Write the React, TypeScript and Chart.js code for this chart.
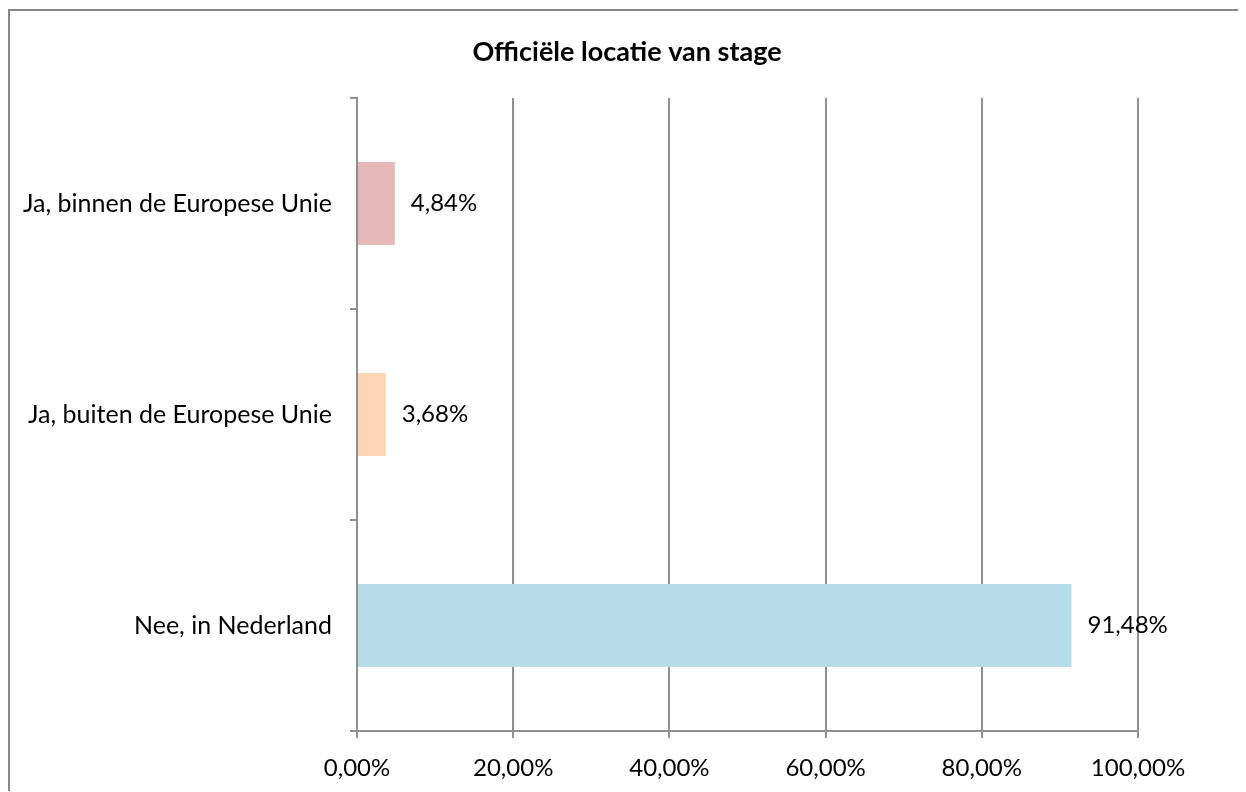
import React, { useEffect, useRef } from "react";
import { Chart, registerables } from "chart.js";

Chart.register(...registerables);

const categories = ["Ja, binnen de Europese Unie", "Ja, buiten de Europese Unie", "Nee, in Nederland"];
const values = [4.84, 3.68, 91.48];
const barColors = ["#E6B9B8", "#FCD5B5", "#B7DEE8"];
const xTicks = [0, 20, 40, 60, 80, 100];
const title = "Officiële locatie van stage";

const FONT = "Lato, 'Open Sans', sans-serif";

const fmt = (v: number) => v.toFixed(2).replace(".", ",") + "%";

const valueLabels = {
  id: "valueLabels",
  afterDatasetsDraw(chart: any) {
    const ctx = chart.ctx;
    const meta = chart.getDatasetMeta(0);
    ctx.save();
    ctx.font = `24px ${FONT}`;
    ctx.fillStyle = "#000";
    ctx.textAlign = "left";
    ctx.textBaseline = "middle";
    meta.data.forEach((bar: any, i: number) => {
      ctx.fillText(fmt(values[i]), bar.x + 16, bar.y);
    });
    ctx.restore();
  },
};

const centeredTitle = {
  id: "centeredTitle",
  afterDraw(chart: any) {
    const ctx = chart.ctx;
    ctx.save();
    ctx.font = `bold 27px ${FONT}`;
    ctx.fillStyle = "#000";
    ctx.textAlign = "center";
    ctx.textBaseline = "middle";
    ctx.fillText(title, chart.width / 2, 41);
    ctx.restore();
  },
};

export default function App() {
  const ref = useRef<HTMLCanvasElement>(null);
  useEffect(() => {
    if (!ref.current) return;
    const chart = new Chart(ref.current, {
      type: "bar",
      data: {
        labels: categories,
        datasets: [
          {
            data: values,
            backgroundColor: barColors,
            borderWidth: 0,
            barPercentage: 0.394,
            categoryPercentage: 1,
          },
        ],
      },
      plugins: [valueLabels, centeredTitle],
      options: {
        indexAxis: "y",
        animation: false,
        responsive: true,
        maintainAspectRatio: false,
        layout: { padding: { left: 0, right: 106, top: 87, bottom: 0 } },
        plugins: {
          legend: { display: false },
          tooltip: { enabled: false },
          title: { display: false },
        },
        scales: {
          x: {
            min: 0,
            max: 100,
            afterBuildTicks: (scale: any) => {
              scale.ticks = xTicks.map((v) => ({ value: v }));
            },
            afterFit: (scale: any) => {
              scale.height = 60;
            },
            grid: {
              color: "#8f8f8f",
              lineWidth: 2,
              tickLength: 7,
              drawTicks: true,
            },
            border: { display: true, color: "#8f8f8f", width: 2 },
            ticks: {
              color: "#000",
              padding: 16,
              font: { family: FONT, size: 24 },
              callback: (v: any) => fmt(Number(v)),
            },
          },
          y: {
            afterFit: (scale: any) => {
              scale.width = 347;
            },
            grid: {
              display: true,
              drawOnChartArea: false,
              drawTicks: true,
              tickLength: 7,
              color: "#8f8f8f",
              lineWidth: 2,
              offset: true,
            },
            border: { display: true, color: "#8f8f8f", width: 2 },
            ticks: {
              color: "#000",
              padding: 18,
              font: { family: FONT, size: 25 },
            },
          },
        },
      },
    });
    return () => chart.destroy();
  }, []);

  return (
    <div
      style={{
        width: 1238,
        height: 782,
        marginTop: 1,
        boxSizing: "border-box",
        borderTop: "2px solid #888",
        borderLeft: "2px solid #888",
        borderRight: "2px solid #888",
        background: "#fff",
      }}
    >
      <div style={{ position: "relative", width: 1234, height: 780 }}>
        <canvas ref={ref} />
      </div>
    </div>
  );
}
